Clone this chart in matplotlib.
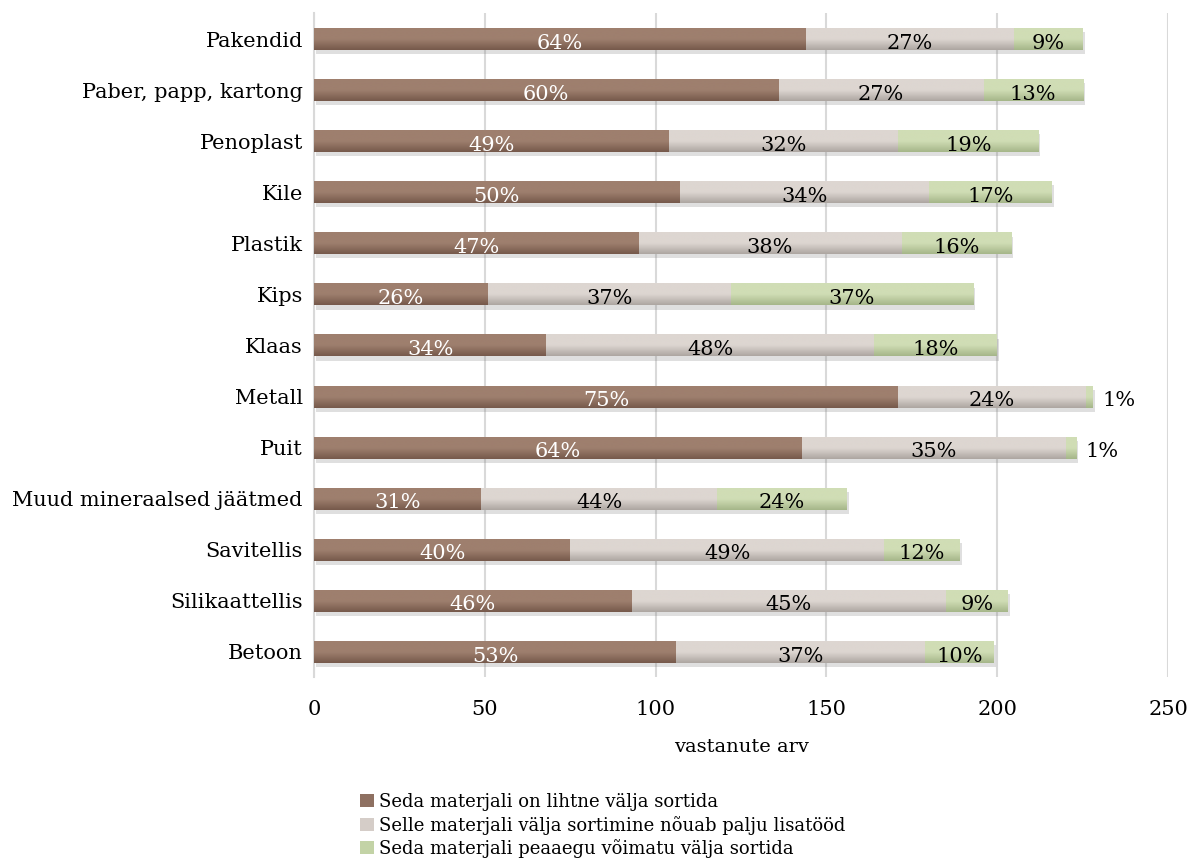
import matplotlib.pyplot as plt
import matplotlib.patheffects as pe
from matplotlib.patches import Patch
from matplotlib.colors import LinearSegmentedColormap
import numpy as np

categories = ["Pakendid", "Paber, papp, kartong", "Penoplast", "Kile", "Plastik",
              "Kips", "Klaas", "Metall", "Puit", "Muud mineraalsed jäätmed",
              "Savitellis", "Silikaattellis", "Betoon"]
easy = [144, 136, 104, 107, 95, 51, 68, 171, 143, 49, 75, 93, 106]
hard = [61, 60, 67, 73, 77, 71, 96, 55, 77, 69, 92, 92, 73]
impossible = [20, 29, 41, 36, 32, 71, 36, 2, 3, 38, 22, 18, 20]
series_names = ["Seda materjali on lihtne välja sortida",
                "Selle materjali välja sortimine nõuab palju lisatööd",
                "Seda materjali peaaegu võimatu välja sortida"]
colors = ["#8E7061", "#D5CDC8", "#C3D3A6"]
grad_top = ["#9E7F6E", "#DDD6D1", "#D0DDB5"]
grad_bottom = ["#76594B", "#ADA6A1", "#A5B689"]
text_colors = ["white", "black", "black"]

plt.rcParams['font.family'] = ['DejaVu Serif']

fig = plt.figure(figsize=(11.92, 8.58), dpi=100)
ax = fig.add_axes([0.2634, 0.2104, 0.7165, 0.7739])

y = np.arange(len(categories))
series = [np.array(easy), np.array(hard), np.array(impossible)]
totals = sum(series)
left = np.zeros(len(categories))
shadow = [pe.SimplePatchShadow(offset=(1.5, -3), shadow_rgbFace="#808080", alpha=0.25), pe.Normal()]
grad = np.linspace(0, 1, 64).reshape(-1, 1)
for vals, col, top, bot, tcol in zip(series, colors, grad_top, grad_bottom, text_colors):
    # light top, darker bottom, like the original's shading
    cmap = LinearSegmentedColormap.from_list("g", [top, top, bot])
    bars = ax.barh(y, vals, left=left, height=0.43, color=col, zorder=3)
    for b in bars:
        b.set_path_effects(shadow)
        x0, y0 = b.get_x(), b.get_y()
        w, h = b.get_width(), b.get_height()
        im = ax.imshow(grad, cmap=cmap, aspect="auto", zorder=3.5,
                       extent=(x0, x0 + w, y0, y0 + h), origin="lower")
        im.set_clip_path(b)
    for i, v in enumerate(vals):
        pct = f"{round(100 * v / totals[i])}%"
        if v < 5:
            ax.text(left[i] + v + 2.7, y[i] + 0.08, pct, ha="left", va="center",
                    fontsize=15, color="black", zorder=4)
        else:
            ax.text(left[i] + v / 2, y[i] + 0.08, pct, ha="center", va="center",
                    fontsize=15, color=tcol, zorder=4)
    left = left + vals

ax.set_ylim(len(categories) - 0.5, -0.5)
ax.set_xlim(0, 250)
ax.set_xticks([0, 50, 100, 150, 200, 250])
ax.set_yticks(y)
ax.set_yticklabels(categories, fontsize=15)
ax.tick_params(axis="both", length=0, labelsize=15)
ax.tick_params(axis="x", pad=16)
ax.tick_params(axis="y", pad=8)
ax.grid(axis="x", color="#D9D9D9", linewidth=1.5, zorder=0)
for s in ["top", "right", "bottom"]:
    ax.spines[s].set_visible(False)
ax.spines["left"].set_color("#D9D9D9")
ax.spines["left"].set_linewidth(1.5)
ax.set_xlabel("vastanute arv", fontsize=14, labelpad=14)

handles = [Patch(facecolor=c) for c in colors]
fig.legend(handles, series_names, loc="upper left", bbox_to_anchor=(0.296, 0.084),
           frameon=False, fontsize=13, handlelength=0.75, handleheight=0.75,
           handletextpad=0.3, labelspacing=0.25, borderaxespad=0)

fig.savefig("out.png", dpi=100)
